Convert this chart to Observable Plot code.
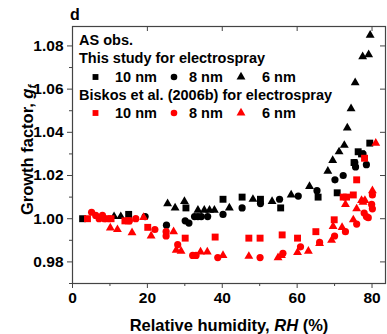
<!DOCTYPE html>
<html><head><meta charset="utf-8">
<script src="https://cdn.jsdelivr.net/npm/d3@7"></script>
<script src="https://cdn.jsdelivr.net/npm/@observablehq/plot@0.6"></script>
<style>body{margin:0;background:#fff}#chart{position:relative;width:387px;height:334px}</style>
</head><body><div id="chart"></div>
<script>
const xMajor = [0, 20, 40, 60, 80];
const xMinor = [10, 30, 50, 70];
const yMajor = [0.98, 1.00, 1.02, 1.04, 1.06, 1.08];
const yMinor = [0.97, 0.99, 1.01, 1.03, 1.05, 1.07];

// This study for electrospray (black)
const study10nm = [[2.7,1.000],[15.0,1.002],[30.3,1.005],[40.2,1.009],[45.3,1.010],[50.2,1.009],[55.6,1.005],[65.6,1.010],[70.7,1.012],[75.2,1.026],[76.3,1.031],[77.2,1.030],[79.4,1.035]];
const study8nm = [[19.4,1.001],[25.1,0.997],[30.1,0.999],[31.1,0.998],[32.6,1.001],[33.5,1.001],[34.4,1.001],[36.1,1.001],[40.2,1.002],[45.3,1.005],[50.2,1.007],[55.3,1.009],[60.3,1.0105],[65.3,1.013],[70.1,1.018],[72.3,1.020],[75.4,1.026],[75.6,1.024],[77.6,1.030],[78.5,1.025]];
const study6nm = [[11.1,1.001],[12.9,1.001],[25.4,1.007],[27.4,1.005],[29.9,1.008],[33.5,1.004],[35.2,1.004],[36.6,1.004],[37.9,1.004],[41.9,1.005],[48.2,1.009],[53.3,1.008],[58.4,1.011],[63.3,1.015],[68.2,1.022],[69.5,1.027],[71.2,1.031],[72.6,1.034],[73.4,1.042],[74.4,1.051],[75.5,1.063],[77.5,1.075],[79.1,1.076],[79.5,1.085]];

// Biskos et al. (2006b) for electrospray (red)
const biskos10nm = [[4.0,1.000],[9.4,1.000],[10.3,1.000],[14.0,0.999],[14.9,0.999],[20.1,0.996],[30.1,0.991],[38.1,0.9915],[47.1,0.991],[50.1,0.991],[56.0,0.9925],[60.1,0.991],[65.0,0.994],[69.9,0.9995],[72.3,1.010],[73.2,1.010],[75.0,1.011],[75.9,1.018],[78.0,1.028]];
const biskos8nm = [[5.1,1.003],[6.2,1.0015],[7.1,1.000],[8.0,1.0015],[8.5,1.000],[15.2,0.999],[16.9,1.000],[22.0,0.995],[25.0,0.994],[25.0,0.992],[28.1,0.988],[32.1,0.983],[33.0,0.983],[38.8,0.982],[50.1,0.982],[56.2,0.984],[60.9,0.987],[66.0,0.989],[70.0,0.992],[72.9,0.994],[75.9,0.9975],[77.9,1.0026],[78.5,1.001],[79.0,1.0005],[79.9,1.0066],[80.1,1.0046],[80.1,1.011]];
const biskos6nm = [[10.1,0.9957],[12.0,0.995],[15.9,0.9935],[19.0,1.0006],[21.0,0.992],[27.0,0.994],[27.7,0.9854],[29.0,0.985],[34.2,0.9846],[36.0,0.9846],[40.2,0.983],[47.1,0.9826],[54.9,0.982],[55.8,0.983],[60.1,0.9844],[63.0,0.985],[66.0,0.9885],[69.2,0.990],[69.6,0.9964],[72.0,0.996],[72.9,1.0066],[75.0,0.9995],[75.9,1.0046],[77.2,1.0085],[78.1,1.0085],[77.6,1.0077],[80.1,1.013],[81.0,1.035]];

const W = 387, H = 334, mL = 72, mR = 2, mT = 26, mB = 51;
const plotW = W - mL - mR, plotH = H - mT - mB;
const font = "'Liberation Sans', Arial, sans-serif";
const px = d => d[0], py = d => d[1];
const sq = {symbol: "square", r: 3.9}, ci = {symbol: "circle", r: 3.6}, tr = {symbol: "triangle", r: 3.3};

const chart = Plot.plot({
  width: W, height: H,
  marginLeft: mL, marginRight: mR, marginTop: mT, marginBottom: mB,
  style: {fontFamily: font, fontSize: "15.5px", fontWeight: "bold", color: "#000", background: "#fff"},
  x: {domain: [0, 83.6]},
  y: {domain: [0.97, 1.089]},
  marks: [
    Plot.frame({stroke: "#444", strokeWidth: 1.2}),
    Plot.axisX(xMajor, {tickSize: 5, tickPadding: 3, label: null, stroke: "#444"}),
    Plot.axisX(xMinor, {tickSize: 3, tickFormat: () => "", label: null, stroke: "#444"}),
    Plot.axisY(yMajor, {tickSize: 5, tickPadding: 4, tickFormat: d3.format(".2f"), label: null, stroke: "#444"}),
    Plot.axisY(yMinor, {tickSize: 3, tickFormat: () => "", label: null, stroke: "#444"}),
    Plot.tickX(xMajor.slice(1), {x: d => d, insetBottom: plotH - 5, stroke: "#444"}),
    Plot.tickY(yMajor, {y: d => d, insetLeft: plotW - 5, stroke: "#444"}),
    Plot.dot(study10nm, {x: px, y: py, fill: "black", ...sq}),
    Plot.dot(study8nm, {x: px, y: py, fill: "black", ...ci}),
    Plot.dot(study6nm, {x: px, y: py, fill: "black", ...tr}),
    Plot.dot(biskos10nm, {x: px, y: py, fill: "red", ...sq}),
    Plot.dot(biskos8nm, {x: px, y: py, fill: "red", ...ci}),
    Plot.dot(biskos6nm, {x: px, y: py, fill: "red", ...tr})
  ]
});
document.getElementById("chart").appendChild(chart);

const svg = d3.select(chart);
const g = svg.append("g").attr("font-family", font).attr("font-weight", "bold").attr("fill", "#000").attr("text-anchor", "start");
// panel letter
g.append("text").attr("x", 70).attr("y", 20).attr("font-size", 16).text("d");
// x label
const xl = g.append("text").attr("x", 229).attr("y", 331).attr("text-anchor", "middle").attr("font-size", 16.5);
xl.append("tspan").text("Relative humidity, ");
xl.append("tspan").attr("font-style", "italic").text("RH");
xl.append("tspan").text(" (%)");
// y label
const yl = g.append("text").attr("transform", "translate(27,150) rotate(-90)").attr("text-anchor", "middle").attr("dy", "0.35em").attr("font-size", 16.5);
yl.append("tspan").text("Growth factor, ");
yl.append("tspan").attr("font-style", "italic").text("g");
yl.append("tspan").attr("font-style", "italic").attr("font-size", 11).attr("dy", "0.3em").text("f");

// legend
const legendLines = ["AS obs.", "This study for electrospray", null, "Biskos et al. (2006b) for electrospray", null];
const legendColors = ["black", "red"];
const legendItems = [["square", "10 nm", 95.5, 115], ["circle", "8 nm", 174, 189], ["triangle", "6 nm", 241, 262]];
const baselines = [45, 63, 82, 100, 118];
legendLines.forEach((t, i) => { if (t) g.append("text").attr("x", 79).attr("y", baselines[i]).attr("font-size", 14.5).text(t); });
const symMap = {square: d3.symbolSquare, circle: d3.symbolCircle, triangle: d3.symbolTriangle};
legendColors.forEach((c, k) => {
  const yb = baselines[2 + 2 * k];
  legendItems.forEach(([s, label, mx, tx]) => {
    const r = 3.3;
    g.append("path").attr("d", d3.symbol(symMap[s], Math.PI * r * r)()).attr("transform", `translate(${mx},${yb - 5})`).attr("fill", c);
    g.append("text").attr("x", tx).attr("y", yb).attr("font-size", 14.5).text(label);
  });
});
</script></body></html>
